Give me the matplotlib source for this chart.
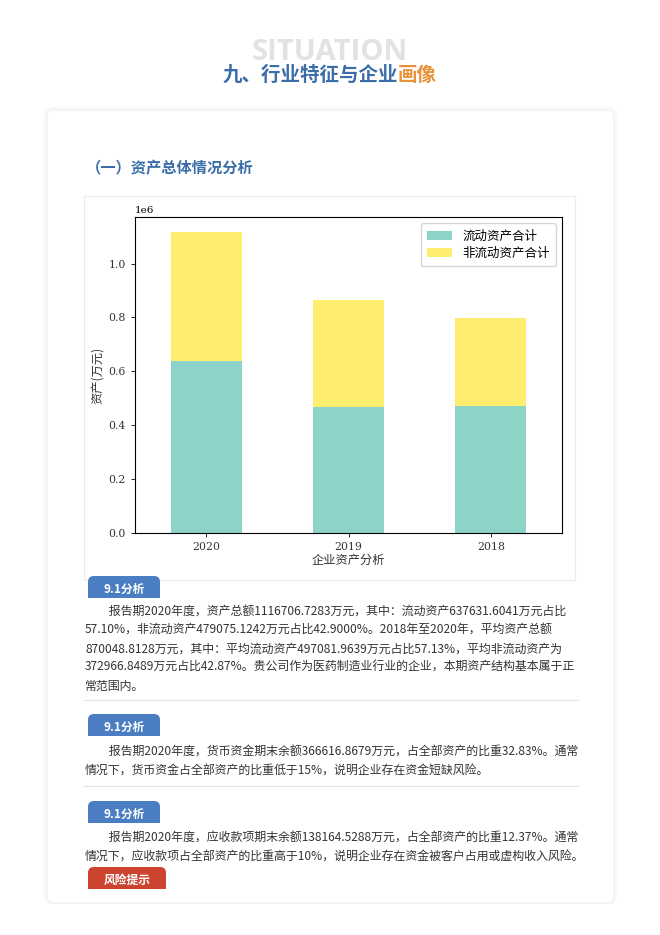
import matplotlib
matplotlib.use("Agg")
import matplotlib.pyplot as plt
from matplotlib.patches import FancyBboxPatch, Rectangle
from matplotlib.lines import Line2D

plt.rcParams['font.family'] = ['Noto Sans CJK SC', 'DejaVu Sans']

# chart data (万元)
years = ["2020", "2019", "2018"]
current_assets = [637631.6041, 467000, 471000]
noncurrent_assets = [479075.1242, 397600, 325600]
series_labels = ["流动资产合计", "非流动资产合计"]
series_colors = ["#8dd3c7", "#ffed6f"]

# page text
header_bg = "SITUATION"
title_blue = "九、行业特征与企业"
title_orange = "画像"
section_title = "（一）资产总体情况分析"
tab_label = "9.1分析"
risk_label = "风险提示"
block1 = [
    "　　报告期2020年度，资产总额1116706.7283万元，其中：流动资产637631.6041万元占比",
    "57.10%，非流动资产479075.1242万元占比42.9000%。2018年至2020年，平均资产总额",
    "870048.8128万元，其中：平均流动资产497081.9639万元占比57.13%，平均非流动资产为",
    "372966.8489万元占比42.87%。贵公司作为医药制造业行业的企业，本期资产结构基本属于正",
    "常范围内。",
]
block2 = [
    "　　报告期2020年度，货币资金期末余额366616.8679万元，占全部资产的比重32.83%。通常",
    "情况下，货币资金占全部资产的比重低于15%，说明企业存在资金短缺风险。",
]
block3 = [
    "　　报告期2020年度，应收款项期末余额138164.5288万元，占全部资产的比重12.37%。通常",
    "情况下，应收款项占全部资产的比重高于10%，说明企业存在资金被客户占用或虚构收入风险。",
]

W, H = 660, 935
BLUE = "#3b6ea8"
ORANGE = "#e8923a"
TAB_BLUE = "#4a7dc2"
TAB_RED = "#cc4430"
TXT = "#333333"


def fx(x):
    return x / W


def fy(y):
    return 1 - y / H


fig = plt.figure(figsize=(W / 100, H / 100), dpi=100)
fig.patch.set_facecolor("white")

# card with soft border
for i, a in enumerate([0.02, 0.035, 0.05]):
    d = 3 - i
    fig.patches.append(FancyBboxPatch(
        (fx(47 - d), fy(903)), fx(567 + 2 * d), (903 - 110 + d) / H,
        boxstyle="round,pad=0,rounding_size=0.008", transform=fig.transFigure,
        facecolor="none", edgecolor="#8fa3bf", alpha=a, lw=1.0, zorder=-3))
fig.patches.append(FancyBboxPatch(
    (fx(47), fy(903)), fx(567), (903 - 110) / H,
    boxstyle="round,pad=0,rounding_size=0.008", transform=fig.transFigure,
    facecolor="white", edgecolor="#edf0f4", lw=0.8, zorder=-2))

# header (the grey word sits partly behind the title, as in the reference)
fig.text(0.5, fy(53), header_bg, ha="center", va="center", fontsize=21,
         fontweight="bold", color="#e2e2e2", family=["Open Sans", "DejaVu Sans"])
r = fig.canvas.get_renderer()
t1 = fig.text(0, fy(75), title_blue, ha="left", va="center", fontsize=14,
              fontweight="bold", color=BLUE)
t2 = fig.text(0, fy(75), title_orange, ha="left", va="center", fontsize=14,
              fontweight="bold", color=ORANGE)
w1 = t1.get_window_extent(r).width
w2 = t2.get_window_extent(r).width
x0 = (W - w1 - w2) / 2
t1.set_x(fx(x0))
t2.set_x(fx(x0 + w1))

fig.text(fx(86), fy(168), section_title, ha="left", va="center", fontsize=11,
         fontweight="bold", color=BLUE)

# chart frame
fig.patches.append(Rectangle((fx(84), fy(580)), fx(491), (580 - 196) / H,
                             transform=fig.transFigure, facecolor="white",
                             edgecolor="#ececec", lw=0.8, zorder=-1))

ax = fig.add_axes([fx(135), fy(533), fx(562 - 135), (533 - 217) / H])
ax.set_zorder(1)
xs = list(range(len(years)))
ax.bar(xs, current_assets, width=0.5, color=series_colors[0], label=series_labels[0])
ax.bar(xs, noncurrent_assets, width=0.5, bottom=current_assets,
       color=series_colors[1], label=series_labels[1])
ax.set_xlim(-0.5, len(years) - 0.5)
ax.set_xticks(xs)
ax.set_xticklabels(years)
serif = ["DejaVu Serif"]
for lab in ax.get_xticklabels() + ax.get_yticklabels():
    lab.set_family(serif)
    lab.set_fontsize(7.8)
    lab.set_color("#333333")
ax.yaxis.get_offset_text().set_family(serif)
ax.yaxis.get_offset_text().set_fontsize(7.5)
ax.tick_params(length=3, width=0.6)
for s in ax.spines.values():
    s.set_linewidth(0.8)
ax.set_xlabel("企业资产分析", fontsize=8.8, color="#333333", labelpad=1)
ax.set_ylabel("资产(万元)", fontsize=8.8, color="#333333", labelpad=3)
ax.legend(loc="upper right", fontsize=9, handlelength=2.0, borderpad=0.5,
          labelspacing=0.35)


def tab(y_top, label, color, width=72):
    fig.patches.append(FancyBboxPatch(
        (fx(88), fy(y_top + 18)), fx(width), 22 / H,
        boxstyle="round,pad=0,rounding_size=0.009", transform=fig.transFigure,
        facecolor=color, edgecolor="none", zorder=1,
        mutation_aspect=W / H))
    # square off the bottom
    fig.patches.append(Rectangle((fx(88), fy(y_top + 18)), fx(width), 8 / H,
                                 transform=fig.transFigure, facecolor=color,
                                 edgecolor="none", zorder=1.1))
    # white cover below the tab
    fig.patches.append(Rectangle((fx(86), fy(y_top + 24)), fx(width + 4), 6 / H,
                                 transform=fig.transFigure, facecolor="white",
                                 edgecolor="none", zorder=1.2))
    fig.text(fx(88 + width / 2), fy(y_top + 9), label, ha="center", va="center",
             fontsize=8.5, fontweight="bold", color="white", zorder=2)


def paragraph(y0, lines, step=18.5):
    for i, ln in enumerate(lines):
        fig.text(fx(85), fy(y0 + i * step), ln, ha="left", va="center",
                 fontsize=8.6, color=TXT)


def sep(y):
    fig.add_artist(Line2D([fx(84), fx(578)], [fy(y), fy(y)],
                          transform=fig.transFigure, color="#e3e3e3", lw=0.8))


tab(580, tab_label, TAB_BLUE)
paragraph(612, block1)
sep(700)
tab(718, tab_label, TAB_BLUE)
paragraph(752, block2, step=19)
sep(786)
tab(805, tab_label, TAB_BLUE)
paragraph(838, block3, step=19)
tab(871, risk_label, TAB_RED, width=78)

fig.savefig("out.png", dpi=100, facecolor="white")
